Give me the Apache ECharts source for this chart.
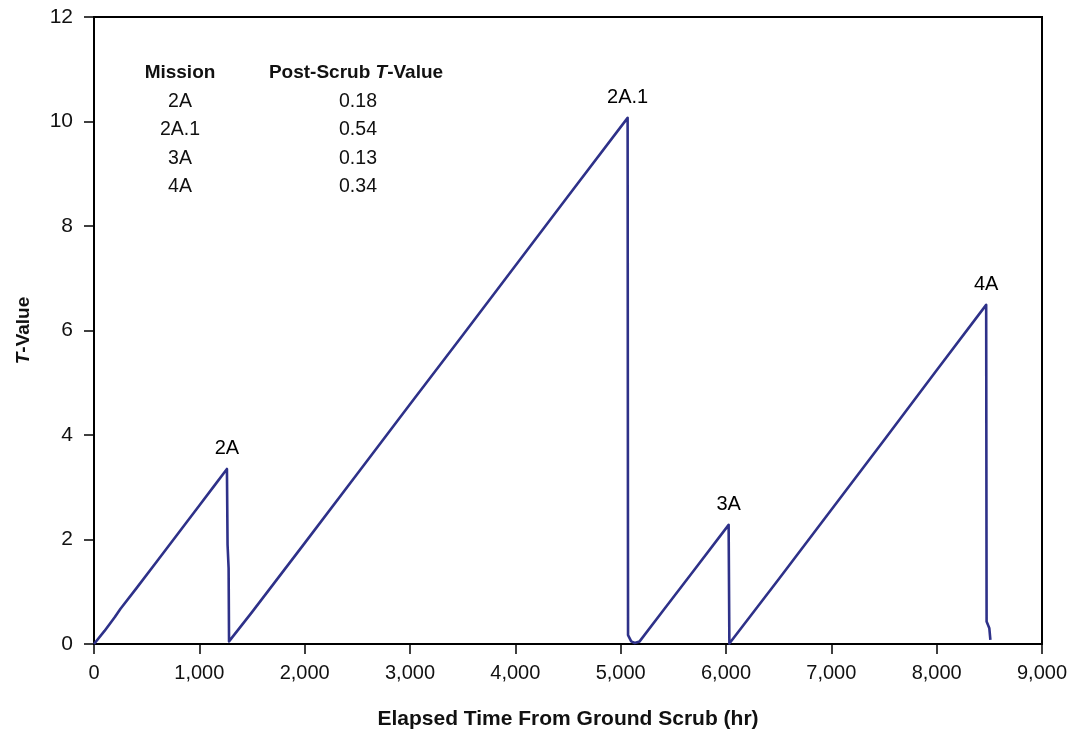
<!DOCTYPE html>
<html>
<head>
<meta charset="utf-8">
<title>T-Value vs Elapsed Time From Ground Scrub</title>
<script src="https://cdn.jsdelivr.net/npm/echarts@6/dist/echarts.min.js"></script>
<style>
  html, body { margin: 0; padding: 0; background: #fff; }
  #chart { width: 1074px; height: 745px; }
</style>
</head>
<body>
<div id="chart"></div>
<script>
// Elapsed time (hr) and T-value along the trace; each ramp ends in a scrub drop
const elapsedHours = [
  0, 100, 200, 250, 400, 600, 800, 1000, 1150, 1262, 1268, 1278, 1282,
  1290, 1500, 2000, 2500, 3000, 3500, 4000, 4500, 5066, 5070, 5100, 5133, 5180,
  5400, 5700, 6025, 6032,
  6050, 6500, 7000, 7500, 8000, 8470, 8474, 8500, 8510
];
const tValues = [
  0.00, 0.25, 0.52, 0.67, 1.06, 1.59, 2.12, 2.65, 3.05, 3.35, 1.90, 1.45, 0.05,
  0.05, 0.61, 1.93, 3.26, 4.59, 5.91, 7.24, 8.57, 10.07, 0.17, 0.05, 0.02, 0.05,
  0.63, 1.42, 2.28, 0.01,
  0.04, 1.24, 2.57, 3.90, 5.24, 6.49, 0.43, 0.30, 0.08
];

// Peak annotations: elapsed time of each peak and its mission name
const peakHours = [1262, 5066, 6025, 8470];
const peakNames = ['2A', '2A.1', '3A', '4A'];

// Summary table shown in the upper-left of the plot
const missions = ['2A', '2A.1', '3A', '4A'];
const postScrubT = ['0.18', '0.54', '0.13', '0.34'];

// Axis ticks
const xTicks = { min: 0, max: 9000, interval: 1000 };
const yTicks = { min: 0, max: 12, interval: 2 };

const FONT = "'Liberation Sans', Arial, sans-serif";
const LINE_COLOR = '#2e3189';
const TEXT_COLOR = '#111';

const lineData = elapsedHours.map((t, i) => [t, tValues[i]]);

// Peak label points, taken from the trace itself
const peakData = peakHours.map((h, k) => {
  const i = elapsedHours.indexOf(h);
  return { value: [h, tValues[i]], name: peakNames[k] };
});

// Table rows drawn as graphic text
const tableGraphics = [];
const colMission = 180, colValue = 358, headerY = 73, rowStep = 28.4;
const headFont = 'bold 19px ' + FONT;
const bodyFont = '19.5px ' + FONT;
tableGraphics.push({
  type: 'text', x: colMission, y: headerY,
  style: { text: 'Mission', font: headFont, fill: TEXT_COLOR, align: 'center', verticalAlign: 'middle' }
});
tableGraphics.push({
  type: 'text', x: colValue - 2, y: headerY,
  style: {
    text: '{b|Post-Scrub }{bi|T}{b|-Value}',
    align: 'center', verticalAlign: 'middle',
    rich: {
      b: { font: headFont, fill: TEXT_COLOR },
      bi: { font: 'italic ' + headFont, fill: TEXT_COLOR }
    }
  }
});
missions.forEach((m, i) => {
  const y = headerY + rowStep * (i + 1);
  tableGraphics.push({
    type: 'text', x: colMission, y: y,
    style: { text: m, font: bodyFont, fill: TEXT_COLOR, align: 'center', verticalAlign: 'middle' }
  });
  tableGraphics.push({
    type: 'text', x: colValue, y: y,
    style: { text: postScrubT[i], font: bodyFont, fill: TEXT_COLOR, align: 'center', verticalAlign: 'middle' }
  });
});

const chart = echarts.init(document.getElementById('chart'), null, { renderer: 'canvas' });
chart.setOption({
  animation: false,
  backgroundColor: '#ffffff',
  grid: {
    left: 94, right: 32, top: 17, bottom: 101,
    show: true, borderColor: '#000', borderWidth: 2, backgroundColor: 'transparent'
  },
  xAxis: {
    type: 'value',
    min: xTicks.min, max: xTicks.max, interval: xTicks.interval,
    name: 'Elapsed Time From Ground Scrub (hr)',
    nameLocation: 'middle',
    nameGap: 65,
    nameTextStyle: { fontFamily: FONT, fontSize: 21, fontWeight: 'bold', color: TEXT_COLOR },
    axisLine: { show: true, lineStyle: { color: '#000', width: 2 } },
    axisTick: { show: true, inside: false, length: 10, lineStyle: { color: '#000', width: 1.5 } },
    axisLabel: {
      margin: 19, fontFamily: FONT, fontSize: 20, color: TEXT_COLOR,
      formatter: v => v.toLocaleString('en-US')
    },
    splitLine: { show: false }
  },
  yAxis: {
    type: 'value',
    min: yTicks.min, max: yTicks.max, interval: yTicks.interval,
    name: '{i|T}{n|-Value}',
    nameLocation: 'middle',
    nameRotate: 90,
    nameGap: 61,
    nameTextStyle: {
      rich: {
        i: { fontFamily: FONT, fontSize: 19, fontWeight: 'bold', fontStyle: 'italic', color: TEXT_COLOR },
        n: { fontFamily: FONT, fontSize: 19, fontWeight: 'bold', color: TEXT_COLOR }
      }
    },
    axisLine: { show: true, lineStyle: { color: '#000', width: 2 } },
    axisTick: { show: true, inside: false, length: 10, lineStyle: { color: '#000', width: 1.5 } },
    axisLabel: { margin: 21, fontFamily: FONT, fontSize: 21, color: TEXT_COLOR, padding: [3, 0, 0, 0] },
    splitLine: { show: false }
  },
  series: [{
    type: 'line',
    data: lineData,
    showSymbol: false,
    symbol: 'none',
    lineStyle: { color: LINE_COLOR, width: 2.6, join: 'round' },
    itemStyle: { color: LINE_COLOR },
    z: 3
  }, {
    type: 'scatter',
    data: peakData,
    symbol: 'circle',
    symbolSize: 1,
    itemStyle: { color: LINE_COLOR, opacity: 1 },
    label: {
      show: true,
      position: 'top',
      distance: 10,
      formatter: p => p.name,
      fontFamily: FONT,
      fontSize: 20,
      color: '#000',
      opacity: 1
    },
    emphasis: { disabled: true },
    labelLayout: { hideOverlap: false },
    silent: true,
    z: 4
  }],
  graphic: tableGraphics
});
</script>
</body>
</html>
